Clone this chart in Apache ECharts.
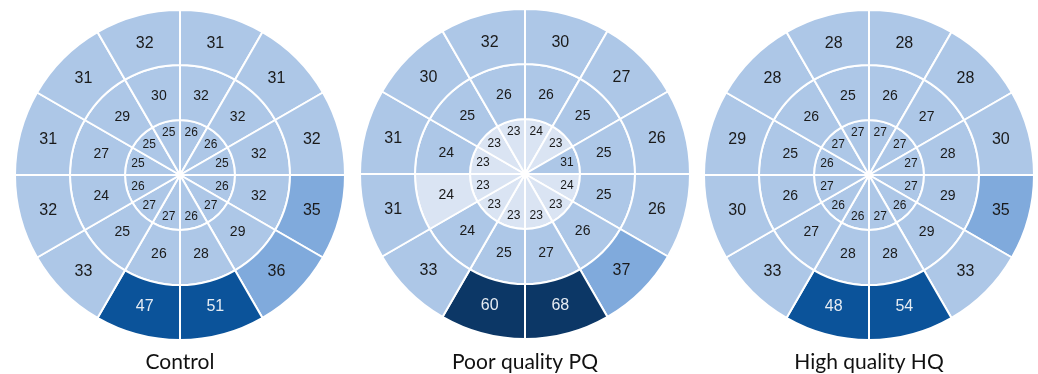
<!DOCTYPE html>
<html>
<head>
<meta charset="utf-8">
<script src="https://cdn.jsdelivr.net/npm/echarts@6/dist/echarts.min.js"></script>
<style>
  html, body { margin: 0; padding: 0; background: #ffffff; }
  #chart { width: 1038px; height: 374px; }
</style>
</head>
<body>
<div id="chart"></div>
<script>
// Twelve segments per ring, counted clockwise from 12 o'clock
const segments = ['1', '2', '3', '4', '5', '6', '7', '8', '9', '10', '11', '12'];
const rings = ['Inner', 'Middle', 'Outer'];
const groupTitles = ['Control', 'Poor quality PQ', 'High quality HQ'];

const controlOuter  = [31, 31, 32, 35, 36, 51, 47, 33, 32, 31, 31, 32];
const controlMiddle = [32, 32, 32, 32, 29, 28, 26, 25, 24, 27, 29, 30];
const controlInner  = [26, 26, 25, 26, 27, 26, 27, 27, 26, 25, 25, 25];

const pqOuter  = [30, 27, 26, 26, 37, 68, 60, 33, 31, 31, 30, 32];
const pqMiddle = [26, 25, 25, 25, 26, 27, 25, 24, 24, 24, 25, 26];
const pqInner  = [24, 23, 31, 24, 23, 23, 23, 23, 23, 23, 23, 23];

const hqOuter  = [28, 28, 30, 35, 33, 54, 48, 33, 30, 29, 28, 28];
const hqMiddle = [26, 27, 28, 29, 29, 28, 28, 27, 26, 25, 26, 25];
const hqInner  = [27, 27, 27, 27, 26, 27, 26, 26, 27, 26, 27, 27];

// Cells flagged as reduced in the PQ group: [ring index, segment index]
const pqReduced = [[0, 0], [0, 3], [1, 8]];

const groups = [
  { inner: controlInner, middle: controlMiddle, outer: controlOuter, reduced: [] },
  { inner: pqInner, middle: pqMiddle, outer: pqOuter, reduced: pqReduced },
  { inner: hqInner, middle: hqMiddle, outer: hqOuter, reduced: [] }
];

const centers = [[180, 175], [525, 174], [869, 175]];
const outerRadius = 165;

function toneFor(v, reduced) {
  if (reduced || v <= 23) return { fill: '#dae4f3', text: '#1a1a1a' };
  if (v >= 60) return { fill: '#0c3766', text: '#e6ecf3' };
  if (v >= 45) return { fill: '#0b539a', text: '#e6ecf3' };
  if (v >= 35) return { fill: '#80aadc', text: '#1a1a1a' };
  return { fill: '#adc7e7', text: '#1a1a1a' };
}

const fontSizes = [12, 14, 16];

function renderCell(params, api) {
  const ring = api.value(0);
  const seg = api.value(1);
  const v = api.value(2);
  const reduced = api.value(3) === 1;
  const pt = api.coord([ring, seg]);
  const size = api.size([1, 1], [ring, seg]);
  const cs = params.coordSys;
  const band = size[0];
  const half = size[1] / 2;
  const a = -pt[3];
  const r0 = pt[2] - band / 2;
  const r1 = pt[2] + band / 2;
  const labelR = ring === 0 ? r0 + band * 0.79 : pt[2] - 1;
  const tone = toneFor(v, reduced);
  return {
    type: 'group',
    children: [
      {
        type: 'sector',
        shape: { cx: cs.cx, cy: cs.cy, r0: r0, r: r1, startAngle: a - half, endAngle: a + half, clockwise: true },
        style: { fill: tone.fill, stroke: '#ffffff', lineWidth: 2 }
      },
      {
        type: 'text',
        x: cs.cx + labelR * Math.cos(a),
        y: cs.cy + labelR * Math.sin(a),
        style: {
          text: String(v),
          fill: tone.text,
          fontSize: fontSizes[ring],
          fontFamily: 'Liberation Sans',
          align: 'center',
          verticalAlign: 'middle'
        }
      }
    ]
  };
}

const polar = [], angleAxis = [], radiusAxis = [], series = [], graphic = [];

groups.forEach(function (g, i) {
  polar.push({ center: centers[i], radius: [0, outerRadius] });
  angleAxis.push({
    polarIndex: i, type: 'category', data: segments, startAngle: 90, clockwise: true,
    show: false
  });
  radiusAxis.push({ polarIndex: i, type: 'category', data: rings, show: false });

  const ringValues = [g.inner, g.middle, g.outer];
  const data = [];
  ringValues.forEach(function (vals, r) {
    vals.forEach(function (v, s) {
      const flagged = g.reduced.some(function (c) { return c[0] === r && c[1] === s; });
      data.push([r, s, v, flagged ? 1 : 0]);
    });
  });
  series.push({
    type: 'custom',
    coordinateSystem: 'polar',
    polarIndex: i,
    encode: { radius: 0, angle: 1 },
    renderItem: renderCell,
    data: data,
    silent: true
  });

  graphic.push({
    type: 'text',
    x: centers[i][0],
    y: 362,
    style: {
      text: groupTitles[i],
      fontSize: 21,
      fontFamily: 'Lato',
      fill: '#111111',
      align: 'center',
      verticalAlign: 'middle'
    }
  });
});

const chart = echarts.init(document.getElementById('chart'), null, { renderer: 'canvas' });
chart.setOption({
  backgroundColor: '#ffffff',
  animation: false,
  polar: polar,
  angleAxis: angleAxis,
  radiusAxis: radiusAxis,
  series: series,
  graphic: graphic
});
</script>
</body>
</html>
